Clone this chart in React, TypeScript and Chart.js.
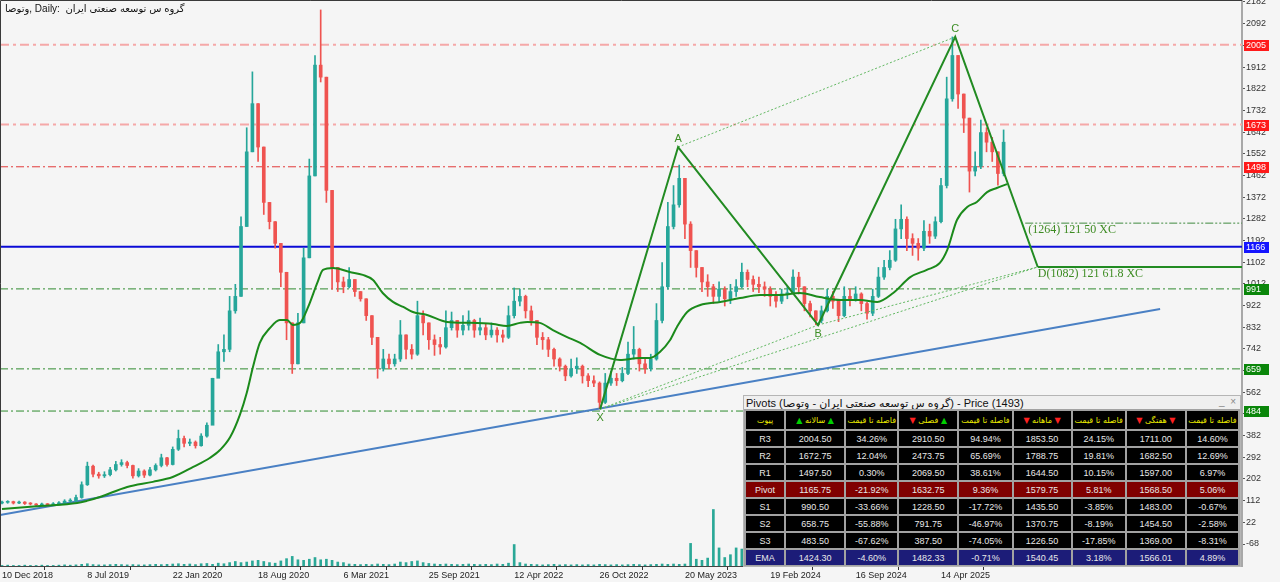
import React, { useEffect, useRef } from "react";
import { Chart, registerables } from "chart.js";
Chart.register(...registerables);

// ---------- data ----------
const dateLabels = ["10 Dec 2018", "8 Jul 2019", "22 Jan 2020", "18 Aug 2020", "6 Mar 2021", "25 Sep 2021", "12 Apr 2022", "26 Oct 2022", "20 May 2023", "19 Feb 2024", "16 Sep 2024", "14 Apr 2025"];
const dateTickIdx = [0, 15, 30, 45, 60, 75, 90, 105, 120, 135, 150, 165];

const priceTicks = [2182, 2092, 2002, 1912, 1822, 1732, 1642, 1552, 1462, 1372, 1282, 1192, 1102, 1012, 922, 832, 742, 652, 562, 472, 382, 292, 202, 112, 22, -68];

const firstOpen = 102;
const closes = [105, 108, 102, 106, 100, 98, 94, 97, 95, 99, 102, 110, 112, 125, 178, 255, 222, 215, 220, 240, 262, 270, 258, 215, 235, 218, 240, 258, 290, 262, 325, 370, 350, 355, 340, 380, 425, 620, 730, 740, 900, 960, 1250, 1560, 1760, 1580, 1350, 1270, 1180, 1060, 850, 680, 850, 1120, 1460, 1920, 1870, 1400, 1080, 1020, 1000, 1030, 980, 950, 880, 790, 660, 700, 680, 700, 800, 740, 720, 880, 850, 780, 760, 750, 830, 860, 820, 840, 860, 820, 830, 800, 820, 800, 790, 880, 940, 960, 900, 860, 790, 780, 740, 700, 670, 630, 660, 670, 630, 610, 600, 520, 600, 620, 610, 640, 720, 740, 680, 660, 700, 860, 1000, 1250, 1340, 1450, 1260, 1150, 1080, 1020, 1000, 960, 990, 950, 980, 1000, 1060, 1030, 1010, 1000, 990, 960, 940, 970, 975, 1040, 1000, 930, 900, 860, 900, 960, 940, 880, 960, 950, 970, 930, 890, 960, 1040, 1080, 1110, 1240, 1280, 1200, 1180, 1160, 1230, 1210, 1270, 1420, 1780, 1960, 1800, 1700, 1480, 1500, 1640, 1600, 1560, 1470, 1600];
const highs = [110, 112, 110, 110, 108, 104, 100, 102, 100, 104, 108, 116, 120, 135, 190, 272, 260, 230, 232, 250, 275, 282, 276, 260, 245, 240, 250, 265, 305, 292, 335, 405, 380, 368, 360, 390, 435, 620, 760, 800, 960, 1010, 1290, 1660, 1892, 1760, 1580, 1350, 1270, 1180, 1060, 850, 890, 1160, 1530, 1960, 2149, 1870, 1400, 1080, 1040, 1080, 1030, 980, 950, 880, 790, 740, 720, 720, 860, 800, 760, 940, 900, 850, 800, 790, 900, 895, 860, 880, 900, 865, 870, 845, 850, 830, 820, 920, 995, 990, 965, 920, 860, 810, 790, 745, 705, 675, 700, 705, 675, 640, 630, 605, 640, 650, 640, 665, 770, 835, 745, 700, 720, 930, 1100, 1350, 1420, 1505, 1450, 1270, 1150, 1080, 1050, 1010, 1020, 1000, 1010, 1030, 1098, 1070, 1045, 1040, 1020, 1000, 980, 990, 1000, 1070, 1060, 1000, 940, 900, 920, 990, 980, 945, 1000, 990, 1000, 975, 935, 990, 1080, 1110, 1150, 1280, 1340, 1290, 1220, 1200, 1275, 1260, 1290, 1450, 1870, 2037, 1960, 1800, 1700, 1560, 1692, 1660, 1620, 1560, 1651];
const lows = [98, 101, 98, 99, 96, 94, 90, 91, 90, 93, 96, 100, 105, 108, 122, 175, 210, 205, 208, 215, 235, 255, 248, 205, 210, 208, 215, 235, 252, 255, 260, 320, 335, 340, 330, 338, 375, 480, 690, 690, 730, 890, 960, 1250, 1560, 1520, 1300, 1240, 1160, 1000, 780, 640, 680, 850, 1120, 1460, 1850, 1350, 990, 980, 975, 995, 960, 940, 860, 760, 620, 650, 660, 670, 690, 700, 700, 715, 800, 740, 715, 720, 745, 820, 790, 800, 820, 790, 800, 780, 790, 770, 770, 785, 870, 920, 870, 840, 760, 740, 710, 670, 650, 610, 625, 640, 600, 585, 585, 495, 515, 590, 590, 605, 635, 700, 650, 640, 650, 695, 850, 990, 1240, 1330, 1200, 1080, 1040, 980, 960, 930, 940, 920, 930, 960, 995, 1000, 980, 975, 960, 920, 915, 930, 950, 970, 970, 900, 875, 842, 850, 895, 910, 855, 875, 920, 940, 900, 865, 880, 955, 1030, 1070, 1105, 1200, 1150, 1130, 1110, 1150, 1180, 1200, 1265, 1410, 1770, 1740, 1640, 1393, 1460, 1490, 1560, 1520, 1422, 1460];
const volumes = [0.1, 0.15, 0.1, 0.1, 0.15, 0.1, 0.1, 0.15, 0.1, 0.1, 0.15, 0.2, 0.15, 0.2, 0.3, 0.4, 0.25, 0.2, 0.2, 0.25, 0.3, 0.25, 0.2, 0.25, 0.2, 0.2, 0.25, 0.3, 0.25, 0.3, 0.35, 0.4, 0.3, 0.35, 0.25, 0.4, 0.45, 0.3, 0.5, 0.4, 0.6, 0.8, 0.6, 0.7, 0.9, 1.0, 0.8, 0.6, 0.5, 0.9, 1.3, 1.7, 1.1, 1.0, 1.2, 1.5, 1.1, 1.2, 1.0, 0.7, 0.6, 0.35, 0.3, 0.25, 0.3, 0.25, 0.35, 0.3, 0.25, 0.35, 0.7, 0.6, 0.8, 0.9, 0.6, 0.45, 0.35, 0.3, 0.35, 0.3, 0.25, 0.3, 0.35, 0.3, 0.25, 0.3, 0.25, 0.35, 0.3, 0.5, 3.8, 0.6, 0.35, 0.3, 0.25, 0.2, 0.25, 0.3, 0.2, 0.25, 0.2, 0.25, 0.2, 0.25, 0.2, 0.3, 0.25, 0.2, 0.25, 0.2, 0.25, 0.3, 0.25, 0.2, 0.25, 0.3, 0.35, 0.3, 0.35, 0.3, 0.35, 4.0, 1.2, 1.0, 1.4, 10, 3.2, 1.5, 2.0, 3.2, 3.0, 1.2, 1.0, 1.1, 1.0, 1.2, 1.0, 1.1, 1.0, 1.2, 1.0, 1.1, 1.0, 1.2, 1.0, 1.1, 1.0, 1.2, 1.0, 1.1, 1.0, 1.2, 1.0, 1.1, 1.0, 1.2, 1.0, 1.1, 1.0, 1.2, 1.0, 1.1, 1.0, 1.2, 1.0, 1.1, 1.0, 1.2, 1.0, 1.1, 1.0, 1.2, 1.0, 1.1, 1.0, 1.2, 1.0];

const emaIdx = [0, 6.7, 13.2, 14.9, 17.2, 22.0, 26.5, 30.0, 33.6, 36.5, 38.3, 40.1, 41.8, 43.0, 44.1, 45.3, 47.1, 48.8, 50.1, 51.1, 52.4, 53.8, 55.4, 56.4, 58.2, 61.1, 63.4, 65.2, 66.9, 68.7, 70.5, 72.2, 74.7, 78.2, 82.2, 86.3, 88.7, 91.0, 92.3, 94.5, 96.8, 99.3, 101.6, 105.1, 108.6, 112.1, 113.9, 115.6, 117.4, 118.6, 120.4, 122.7, 126.2, 129.7, 133.2, 136.7, 140.2, 143.7, 147.3, 150.8, 153.8, 156.6, 159.6, 162.5, 164.8, 166.1, 167.8, 169.6, 171.3, 173.1, 174.8, 176.6];
const emaVal = [77, 90, 102, 111, 127, 169, 190, 210, 252, 289, 322, 376, 468, 559, 667, 767, 829, 862, 862, 841, 850, 916, 1016, 1070, 1078, 1061, 1049, 1028, 974, 937, 916, 895, 883, 854, 850, 845, 837, 850, 854, 850, 820, 791, 767, 717, 696, 704, 704, 729, 779, 833, 895, 924, 937, 953, 966, 966, 974, 957, 945, 945, 937, 974, 1040, 1070, 1099, 1153, 1277, 1331, 1352, 1393, 1410, 1426];

const patternNames = ["X", "A", "B", "C", "D"];
const patternIdx = [105.1, 118.8, 143.4, 167.5, 182.0];
const patternVal = [492, 1580, 841, 2037, 1082];

const trendIdx = [-0.35, 203.5];
const trendVal = [52, 908];

const fibVal = [1264, 1082];
const fibStartIdx = [179.8, 182.0];
const fibText = ["(1264) 121 50 XC", "D(1082) 121 61.8 XC"];

const levelVal = [2005, 1673, 1498, 1166, 991, 659, 484];
const levelKind = ["pink", "pink", "red", "blue", "green", "green", "green"];

const pivotNames = ["R3", "R2", "R1", "Pivot", "S1", "S2", "S3", "EMA"];
const yearly = ["2004.50", "1672.75", "1497.50", "1165.75", "990.50", "658.75", "483.50", "1424.30"];
const yearlyPct = ["34.26%", "12.04%", "0.30%", "-21.92%", "-33.66%", "-55.88%", "-67.62%", "-4.60%"];
const seasonal = ["2910.50", "2473.75", "2069.50", "1632.75", "1228.50", "791.75", "387.50", "1482.33"];
const seasonalPct = ["94.94%", "65.69%", "38.61%", "9.36%", "-17.72%", "-46.97%", "-74.05%", "-0.71%"];
const monthly = ["1853.50", "1788.75", "1644.50", "1579.75", "1435.50", "1370.75", "1226.50", "1540.45"];
const monthlyPct = ["24.15%", "19.81%", "10.15%", "5.81%", "-3.85%", "-8.19%", "-17.85%", "3.18%"];
const weekly = ["1711.00", "1682.50", "1597.00", "1568.50", "1483.00", "1454.50", "1369.00", "1566.01"];
const weeklyPct = ["14.60%", "12.69%", "6.97%", "5.06%", "-0.67%", "-2.58%", "-8.31%", "4.89%"];

const titleText = "وتوصا, Daily:  گروه س توسعه صنعتی ایران";
const panelTitle = "Pivots (گروه س توسعه صنعتی ایران - وتوصا) - Price (1493)";

// ---------- styles ----------
const BG = "#f5f5f5";
const UP = "#26a69a";
const DOWN = "#ef5350";
const GREEN = "#228b22";
const FONT = '"Liberation Sans", "DejaVu Sans", sans-serif';
const X_MIN = -0.351;
const X_MAX = 217.89;
const Y_MAX = 2186.15;
const Y_MIN = -159.3;

const levelStyle: Record<string, any> = {
  pink: { color: "#f5a8a8", width: 2, dash: [9, 4, 3, 4], box: "#ff1a1a" },
  red: { color: "#e23b3b", width: 1, dash: [8, 3, 2, 3], box: "#ff1a1a" },
  blue: { color: "#0b0bd6", width: 2, dash: [], box: "#1515ff" },
  green: { color: "#2e8b2e", width: 1, dash: [8, 3, 2, 3], box: "#0a860a" },
};

const overlayPlugin = {
  id: "overlay",
  beforeDraw(chart: any) {
    const { ctx, width, height } = chart;
    ctx.save();
    ctx.fillStyle = BG;
    ctx.fillRect(0, 0, width, height);
    ctx.restore();
  },
  afterDatasetsDraw(chart: any) {
    const { ctx } = chart;
    const xs = chart.scales.x;
    const ys = chart.scales.y;
    ctx.save();
    ctx.fillStyle = "#3d8f26";
    ctx.font = `11px ${FONT}`;
    ctx.textAlign = "center";
    ctx.textBaseline = "middle";
    patternNames.forEach((n, i) => {
      if (n === "D") return;
      const px = xs.getPixelForValue(patternIdx[i]);
      const py = ys.getPixelForValue(patternVal[i]);
      const below = n === "X" || n === "B";
      ctx.fillText(n, px, below ? py + 9 : py - 8);
    });
    ctx.font = '12px "Liberation Serif", serif';
    ctx.textAlign = "left";
    ctx.fillStyle = "#3d8b22";
    fibVal.forEach((v, i) => {
      const px = xs.getPixelForValue(fibStartIdx[i]);
      const py = ys.getPixelForValue(v);
      ctx.fillText(fibText[i], px + (i === 0 ? 3 : 0), py + 7);
    });
    ctx.fillStyle = "#111";
    ctx.font = `10px ${FONT}`;
    ctx.textBaseline = "alphabetic";
    ctx.fillText(titleText, 5, 12);
    ctx.restore();
  },
  afterDraw(chart: any) {
    const { ctx, chartArea } = chart;
    const ys = chart.scales.y;
    ctx.save();
    ctx.strokeStyle = "#3a3a3a";
    ctx.lineWidth = 1;
    ctx.beginPath();
    ctx.moveTo(0.5, chartArea.bottom);
    ctx.lineTo(0.5, 0.5);
    ctx.lineTo(chartArea.right, 0.5);
    ctx.stroke();
    ctx.font = `9px ${FONT}`;
    ctx.textBaseline = "middle";
    ctx.textAlign = "left";
    levelVal.forEach((v, i) => {
      const st = levelStyle[levelKind[i]];
      const py = Math.round(ys.getPixelForValue(v));
      ctx.fillStyle = st.box;
      ctx.fillRect(chartArea.right + 2, py - 5, 25, 11);
      ctx.fillStyle = "#ffffff";
      ctx.fillText(String(v), chartArea.right + 4, py + 0.5);
    });
    ctx.restore();
  },
};

function ChartCanvas() {
  const ref = useRef<HTMLCanvasElement | null>(null);
  useEffect(() => {
    if (!ref.current) return;
    const opens = closes.map((c, i) => (i === 0 ? firstOpen : closes[i - 1]));
    const wick = closes.map((_, i) => ({ x: i, y: [lows[i], highs[i]] }));
    const body = closes.map((c, i) => ({ x: i, y: [opens[i], c] }));
    const candleColor = closes.map((c, i) => (c >= opens[i] ? UP : DOWN));
    const vol = volumes.map((v, i) => ({ x: i, y: v }));
    const ema = emaIdx.map((x, i) => ({ x, y: emaVal[i] }));
    const pat = patternIdx.map((x, i) => ({ x, y: patternVal[i] }));
    const seg = (a: number, b: number) => [pat[a], pat[b]];
    const dotted = (data: any) => ({
      type: "line", data, borderColor: "#62b862", borderWidth: 1, borderDash: [2, 2],
      pointRadius: 0, order: 1, tension: 0,
    });
    const levelSets = levelVal.map((v, i) => {
      const st = levelStyle[levelKind[i]];
      return {
        type: "line", data: [{ x: X_MIN, y: v }, { x: X_MAX, y: v }], borderColor: st.color,
        borderWidth: st.width, borderDash: st.dash, pointRadius: 0, order: 8,
      };
    });
    const fibSets = fibVal.map((v, i) => ({
      type: "line", data: [{ x: fibStartIdx[i], y: v }, { x: X_MAX, y: v }],
      borderColor: i === 0 ? "#3f8a3f" : GREEN, borderWidth: i === 0 ? 1 : 2,
      borderDash: i === 0 ? [8, 2, 2, 2, 2, 2] : [], pointRadius: 0, order: 2,
    }));

    const chart = new Chart(ref.current, {
      type: "bar",
      data: {
        datasets: [
          { type: "line", data: pat, borderColor: GREEN, borderWidth: 2, pointRadius: 0, order: 0, tension: 0 },
          dotted(seg(1, 3)),
          dotted(seg(0, 2)),
          dotted(seg(0, 4)),
          dotted(seg(2, 4)),
          ...fibSets,
          { type: "line", data: ema, borderColor: "#1b8a1b", borderWidth: 2, pointRadius: 0, order: 3, tension: 0.35, cubicInterpolationMode: "monotone" },
          { type: "bar", data: body, backgroundColor: candleColor, barThickness: 3, grouped: false, minBarLength: 1, order: 4 },
          { type: "bar", data: wick, backgroundColor: candleColor, barThickness: 1, grouped: false, order: 5 },
          { type: "line", data: trendIdx.map((x, i) => ({ x, y: trendVal[i] })), borderColor: "#4a80c4", borderWidth: 2, pointRadius: 0, order: 6 },
          ...levelSets,
          { type: "bar", data: vol, yAxisID: "yv", backgroundColor: "#2aa897", barThickness: 2, grouped: false, order: 9 },
        ] as any,
      },
      options: {
        responsive: false,
        animation: false,
        devicePixelRatio: 1,
        layout: { padding: { top: 1, left: 0, right: 0, bottom: 0 } },
        plugins: { legend: { display: false }, tooltip: { enabled: false } },
        events: [],
        scales: {
          x: {
            type: "linear", min: X_MIN, max: X_MAX, offset: false,
            grid: { display: true, drawOnChartArea: false, drawTicks: true, tickLength: 4, color: "#333" },
            border: { display: true, color: "#444", width: 1 },
            ticks: {
              autoSkip: false, maxRotation: 0, minRotation: 0, align: "start", padding: 0,
              font: { family: FONT, size: 9 }, color: "#222",
              callback: (v: any) => { const k = dateTickIdx.indexOf(Math.round(Number(v))); return k >= 0 ? dateLabels[k] : ""; },
            },
            afterBuildTicks: (s: any) => { s.ticks = dateTickIdx.map((v) => ({ value: v })); },
            afterFit: (s: any) => { s.height = 16; s.paddingLeft = 0; s.paddingRight = 0; },
          },
          y: {
            type: "linear", position: "right", min: Y_MIN, max: Y_MAX,
            grid: { display: true, drawOnChartArea: false, drawTicks: true, tickLength: 3, color: "#555" },
            border: { display: true, color: "#a8a8a8", width: 2 },
            ticks: { autoSkip: false, padding: 1, font: { family: FONT, size: 9 }, color: "#333", callback: (v: any) => String(v) },
            afterBuildTicks: (s: any) => { s.ticks = priceTicks.map((v) => ({ value: v })); },
            afterFit: (s: any) => { s.width = 38; s.paddingTop = 0; s.paddingBottom = 0; },
          },
          yv: { type: "linear", display: false, min: 0, max: 100 },
        },
      } as any,
      plugins: [overlayPlugin],
    });
    return () => chart.destroy();
  }, []);
  return <canvas ref={ref} width={1280} height={582} style={{ position: "absolute", left: 0, top: 0, width: 1280, height: 582 }} />;
}

const colWidths = [38, 58, 51, 58, 52, 57, 52, 58, 51];

function Tri({ up }: { up: boolean }) {
  return <span style={{ color: up ? "#00d000" : "#ff2020", fontSize: 8 }}>{up ? "▲" : "▼"}</span>;
}

function PivotPanel() {
  const cell: React.CSSProperties = { padding: 0, textAlign: "center", whiteSpace: "nowrap", overflow: "hidden" };
  const head = (content: React.ReactNode, i: number) => (
    <td key={i} style={{ ...cell, width: colWidths[i], background: "#000", color: "#ecec00", height: 18, fontSize: 8, fontFamily: '"DejaVu Sans", sans-serif' }}>{content}</td>
  );
  const rows = pivotNames.map((n, r) => {
    const bg = n === "Pivot" ? "#800000" : n === "EMA" ? "#1c1c78" : "#000";
    const vals = [n, yearly[r], yearlyPct[r], seasonal[r], seasonalPct[r], monthly[r], monthlyPct[r], weekly[r], weeklyPct[r]];
    return (
      <tr key={n}>
        {vals.map((v, i) => (
          <td key={i} style={{ ...cell, width: colWidths[i], background: bg, color: "#e8e8e8", height: 15 }}>{v}</td>
        ))}
      </tr>
    );
  });
  return (
    <div style={{ position: "absolute", left: 743, top: 395, width: 498, height: 172, background: "#efefef", border: "1px solid #b5b5b5", boxSizing: "border-box", overflow: "hidden", fontFamily: FONT }}>
      <div style={{ position: "absolute", left: 2, top: 0, height: 14, lineHeight: "14px", fontSize: 11, color: "#111", whiteSpace: "nowrap", direction: "ltr" }}>{panelTitle}</div>
      <div style={{ position: "absolute", right: 4, top: 0, height: 14, lineHeight: "12px", fontSize: 10, color: "#888" }}>_ &nbsp;×</div>
      <table style={{ position: "absolute", left: 0, top: 13, borderCollapse: "separate", borderSpacing: 2, background: "#a2a2a2", fontSize: 9, tableLayout: "fixed", width: 496 }}>
        <tbody>
          <tr>
            {head("پیوت", 0)}
            {head(<span><Tri up={true} /> سالانه <Tri up={true} /></span>, 1)}
            {head("فاصله تا قیمت", 2)}
            {head(<span><Tri up={false} /> فصلی <Tri up={true} /></span>, 3)}
            {head("فاصله تا قیمت", 4)}
            {head(<span><Tri up={false} /> ماهانه <Tri up={false} /></span>, 5)}
            {head("فاصله تا قیمت", 6)}
            {head(<span><Tri up={false} /> هفتگی <Tri up={false} /></span>, 7)}
            {head("فاصله تا قیمت", 8)}
          </tr>
          {rows}
        </tbody>
      </table>
    </div>
  );
}

export default function App() {
  return (
    <div style={{ position: "fixed", left: 0, top: 0, width: 1280, height: 582, background: BG, overflow: "hidden" }}>
      <ChartCanvas />
      <PivotPanel />
    </div>
  );
}
